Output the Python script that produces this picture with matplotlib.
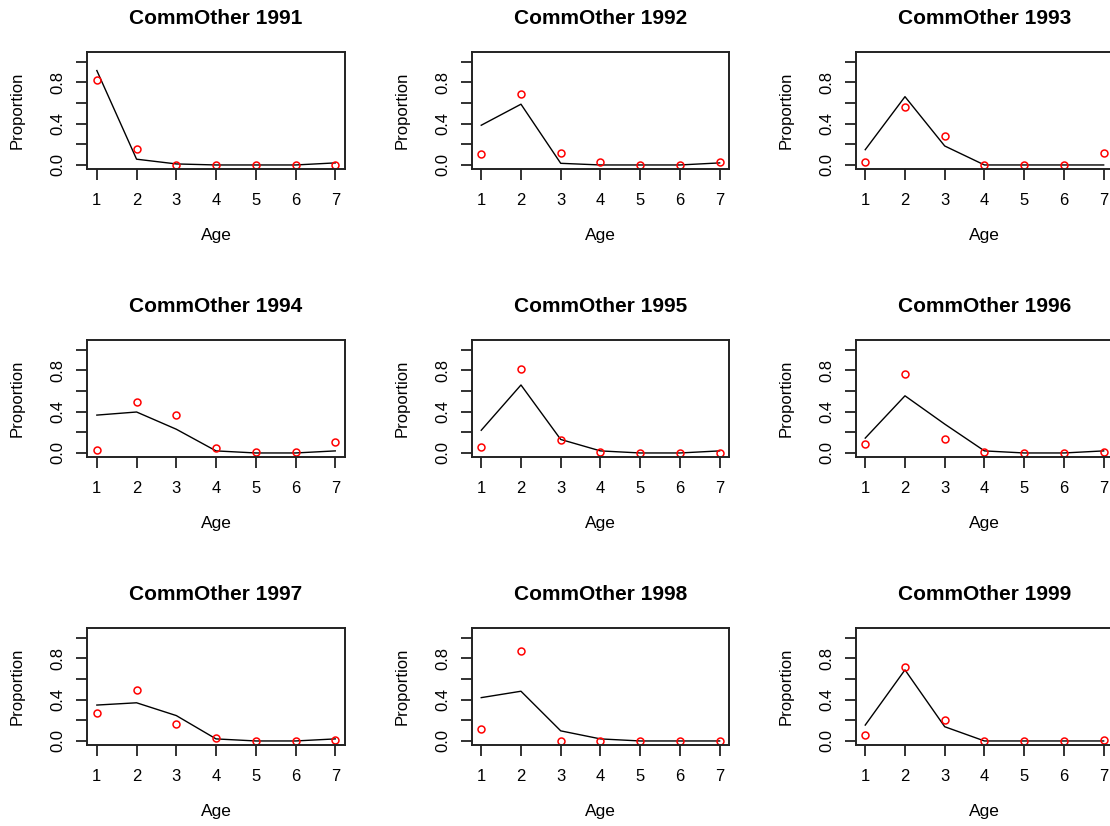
import matplotlib
matplotlib.use("Agg")
import matplotlib.pyplot as plt

years = [1991, 1992, 1993, 1994, 1995, 1996, 1997, 1998, 1999]
ages = [1, 2, 3, 4, 5, 6, 7]

obs_1991 = [0.823, 0.151, 0.0, 0.0, 0.0, 0.0, 0.0]
obs_1992 = [0.102, 0.688, 0.118, 0.026, 0.0, 0.0, 0.03]
obs_1993 = [0.026, 0.56, 0.28, 0.0, 0.0, 0.0, 0.118]
obs_1994 = [0.03, 0.498, 0.367, 0.046, 0.013, 0.013, 0.105]
obs_1995 = [0.059, 0.816, 0.128, 0.013, 0.0, 0.0, 0.0]
obs_1996 = [0.089, 0.77, 0.131, 0.013, 0.0, 0.0, 0.013]
obs_1997 = [0.275, 0.495, 0.16, 0.03, 0.0, 0.0, 0.013]
obs_1998 = [0.115, 0.875, 0.0, 0.0, 0.0, 0.0, 0.0]
obs_1999 = [0.056, 0.715, 0.203, 0.0, 0.0, 0.0, 0.013]

fit_1991 = [0.915, 0.056, 0.01, 0.0, 0.0, 0.0, 0.02]
fit_1992 = [0.385, 0.589, 0.016, 0.0, 0.0, 0.0, 0.02]
fit_1993 = [0.148, 0.662, 0.184, 0.0, 0.0, 0.0, 0.0]
fit_1994 = [0.367, 0.397, 0.23, 0.02, 0.0, 0.0, 0.02]
fit_1995 = [0.22, 0.659, 0.131, 0.02, 0.0, 0.0, 0.02]
fit_1996 = [0.144, 0.554, 0.28, 0.02, 0.0, 0.0, 0.02]
fit_1997 = [0.348, 0.37, 0.246, 0.02, 0.0, 0.0, 0.02]
fit_1998 = [0.42, 0.482, 0.098, 0.02, 0.0, 0.0, 0.0]
fit_1999 = [0.154, 0.689, 0.138, 0.0, 0.0, 0.0, 0.0]

observed = [obs_1991, obs_1992, obs_1993, obs_1994, obs_1995,
            obs_1996, obs_1997, obs_1998, obs_1999]
fitted = [fit_1991, fit_1992, fit_1993, fit_1994, fit_1995,
          fit_1996, fit_1997, fit_1998, fit_1999]

y_ticks = [0.0, 0.2, 0.4, 0.6, 0.8, 1.0]
y_tick_labels = ["0.0", "", "0.4", "", "0.8", ""]

plt.rcParams['font.family'] = ['Liberation Sans', 'DejaVu Sans']

W, H = 1110, 826
fig = plt.figure(figsize=(W / 100, H / 100), dpi=100)

col_left = [87.3, 471.7, 855.7]
row_top = [52.3, 340.3, 628.3]
aw, ah = 257.5, 117.0

for i, yr in enumerate(years):
    r, c = divmod(i, 3)
    left = col_left[c]
    top = row_top[r]
    ax = fig.add_axes([left / W, 1 - (top + ah) / H, aw / W, ah / H])
    ax.plot(ages, fitted[i], color='black', lw=1.0)
    ax.plot(ages, observed[i], linestyle='none', marker='o', markersize=5,
            markerfacecolor='none', markeredgecolor='red', markeredgewidth=1.1)
    ax.set_xlim(0.76, 7.24)
    ax.set_ylim(-0.042, 1.092)
    ax.set_xticks(ages)
    ax.set_xticklabels([str(a) for a in ages])
    ax.set_yticks(y_ticks)
    ax.set_yticklabels(y_tick_labels, rotation=90, va='center')
    ax.tick_params(axis='both', direction='out', length=8, width=1.3,
                   labelsize=12, color='#222222')
    ax.tick_params(axis='x', pad=9)
    ax.tick_params(axis='y', pad=7.5)
    for sp in ax.spines.values():
        sp.set_linewidth(1.4)
        sp.set_color('#222222')
    ax.text(0.5, 1 + 34 / ah, f"CommOther {yr}", transform=ax.transAxes,
            ha='center', va='center', fontsize=15, fontweight='bold')
    ax.text(0.5, -66 / ah, "Age", transform=ax.transAxes,
            ha='center', va='center', fontsize=12.5)
    ax.text(-70 / aw, 0.5, "Proportion", transform=ax.transAxes,
            ha='center', va='center', fontsize=12, rotation=90)

fig.savefig("out.png", dpi=100)
